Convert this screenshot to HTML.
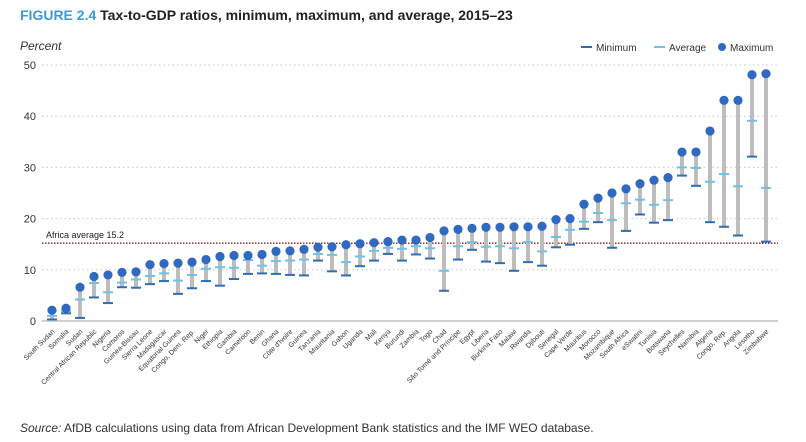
<!DOCTYPE html>
<html><head><meta charset="utf-8"><style>
body{margin:0;background:#fff;width:806px;height:442px;overflow:hidden;font-family:"Liberation Sans",sans-serif}
</style></head><body>
<svg id="chart" width="806" height="442" style="position:absolute;left:0;top:0">
<text x="20" y="20" font-size="14" font-weight="bold" fill="#3a9bd9">FIGURE 2.4 <tspan fill="#222">Tax-to-GDP ratios, minimum, maximum, and average, 2015–23</tspan></text>
<text x="20" y="50" font-size="12" font-style="italic" fill="#333">Percent</text>
<g font-size="10" fill="#333">
<line x1="581" y1="47" x2="592" y2="47" stroke="#2e6cb5" stroke-width="2"/><text x="596" y="51">Minimum</text>
<line x1="654" y1="47" x2="665" y2="47" stroke="#6ec1e8" stroke-width="2"/><text x="669" y="51">Average</text>
<circle cx="722" cy="47" r="4" fill="#2f69c0"/><text x="730" y="51">Maximum</text>
</g>
<g id="grid"></g><g id="marks"></g><g id="labels"></g>
<text x="20" y="432" font-size="12" fill="#333"><tspan font-style="italic">Source:</tspan> AfDB calculations using data from African Development Bank statistics and the IMF WEO database.</text>
</svg>
<script>
const countries=["South Sudan","Somalia","Sudan","Central African Republic","Nigeria","Comoros","Guinea-Bissau","Sierra Leone","Madagascar","Equatorial Guinea","Congo, Dem. Rep.","Niger","Ethiopia","Gambia","Cameroon","Benin","Ghana","Côte d'Ivoire","Guinea","Tanzania","Mauritania","Gabon","Uganda","Mali","Kenya","Burundi","Zambia","Togo","Chad","São Tomé and Príncipe","Egypt","Liberia","Burkina Faso","Malawi","Rwanda","Djibouti","Senegal","Cape Verde","Mauritius","Morocco","Mozambique","South Africa","eSwatini","Tunisia","Botswana","Seychelles","Namibia","Algeria","Congo, Rep.","Angola","Lesotho","Zimbabwe"];
const maxVals=[2.1,2.5,6.6,8.7,9.0,9.5,9.6,11.0,11.2,11.3,11.5,12.0,12.6,12.8,12.8,13.0,13.6,13.7,14.0,14.4,14.5,14.9,15.1,15.3,15.5,15.8,15.8,16.3,17.6,17.9,18.1,18.3,18.3,18.4,18.4,18.5,19.8,20.0,22.8,24.0,25.0,25.8,26.8,27.5,28.0,33.0,33.0,37.1,43.1,43.1,48.1,48.3];
const avgVals=[1.0,1.9,4.2,7.4,5.6,7.5,8.1,8.8,9.3,7.9,9.0,10.2,10.5,10.4,11.9,10.8,11.7,11.8,12.0,13.1,12.9,11.5,12.6,13.7,14.3,14.1,14.6,14.2,9.8,14.6,15.4,14.5,14.6,14.2,15.4,13.6,16.4,17.8,19.4,21.1,19.7,23.0,23.7,22.7,23.6,30.0,29.9,27.2,28.7,26.3,39.1,26.0];
const minVals=[0.3,1.5,0.6,4.6,3.5,6.6,6.5,7.2,7.8,5.3,6.4,7.8,6.9,8.2,9.2,9.3,9.2,9.0,8.9,11.8,9.7,8.9,10.7,11.8,13.1,11.8,13.0,12.2,5.9,12.0,13.9,11.6,11.3,9.8,11.5,10.8,14.4,14.9,18.0,19.3,14.3,17.6,20.8,19.2,19.7,28.4,26.4,19.3,18.4,16.7,32.1,15.5];
const yTicks=[0,10,20,30,40,50];
const africaAvg=15.2;
const NS="http://www.w3.org/2000/svg";
const y=v=>321-v*5.12, x=i=>52+i*14;
function mk(t,a,p){const e=document.createElementNS(NS,t);for(const k in a)e.setAttribute(k,a[k]);p.appendChild(e);return e;}
const grid=document.getElementById('grid'),marks=document.getElementById('marks'),labels=document.getElementById('labels');
yTicks.forEach(t=>{
  const l=mk('line',{x1:42,x2:778,y1:y(t),y2:y(t),stroke:t?'#c8c8c8':'#d0d0d0','stroke-width':t?1:2,'stroke-dasharray':t?'1.5,3':''},grid);
  
  
  const tx=mk('text',{x:36,y:y(t)+4,'text-anchor':'end','font-size':11,fill:'#333'},grid);tx.textContent=t;
  
  
});
const al=mk('line',{x1:42,x2:778,y1:y(africaAvg),y2:y(africaAvg),stroke:'#8b1a1a','stroke-width':1.3,'stroke-dasharray':'1.5,1.5'},grid);


const at=mk('text',{x:46,y:y(africaAvg)-5,'font-size':9,fill:'#222'},grid);at.textContent='Africa average '+africaAvg;


countries.forEach((c,i)=>{
  const g=mk('g',{},marks);
  
  
  mk('line',{x1:x(i),x2:x(i),y1:y(minVals[i]),y2:y(maxVals[i]),stroke:'#bdbdbd','stroke-width':4},g);
  mk('line',{x1:x(i)-5,x2:x(i)+5,y1:y(minVals[i]),y2:y(minVals[i]),stroke:'#2e6cb5','stroke-width':2},g);
  mk('line',{x1:x(i)-5,x2:x(i)+5,y1:y(avgVals[i]),y2:y(avgVals[i]),stroke:'#6ec1e8','stroke-width':2},g);
  mk('circle',{cx:x(i),cy:y(maxVals[i]),r:4.6,fill:'#2f69c0'},g);
  const t=mk('text',{x:x(i)+3,y:332,'text-anchor':'end','font-size':7,fill:'#333',transform:`rotate(-45 ${x(i)+3} 332)`},labels);
  t.textContent=c;
  
  
});
</script>
</body></html>
